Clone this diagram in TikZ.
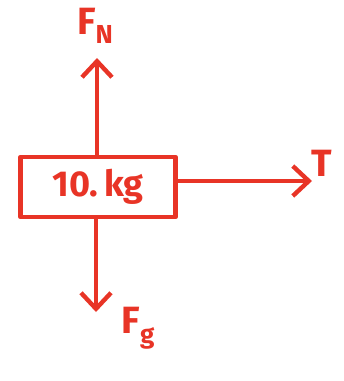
\documentclass[tikz,border=0pt]{standalone}
\usepackage{fontspec}
\setmainfont{Fira Sans}
\usetikzlibrary{arrows.meta}
\definecolor{pen}{RGB}{232,52,38}
\newcommand{\subsc}[1]{\raisebox{-0.25em}{\fontsize{26}{28}\selectfont #1}}
\tikzset{
  ink/.style={draw=pen, line width=4.4pt, line cap=round, line join=round},
  vec/.style={ink, -{Straight Barb[length=16pt,width=30pt,line width=4.4pt]}},
  lbl/.style={text=pen, font=\fontsize{38}{42}\selectfont\bfseries, inner sep=0pt},
}
\begin{document}
\begin{tikzpicture}[x=1pt,y=-1pt]
\useasboundingbox (0,0) rectangle (344,381);
\node[ink, minimum width=155pt, minimum height=60pt, inner sep=0pt,
      text=pen, font=\fontsize{36}{40}\selectfont\bfseries] (box) at (98,187) {10.\,kg};
\coordinate (up) at (97,58);
\coordinate (down) at (96,312);
\coordinate (right) at (312,181);
\draw[vec] (box.north -| up) -- (up);
\draw[vec] (box.south -| down) -- (down);
\draw[vec] (box.east |- right) -- (right);
\node[lbl] (fn) at (95,26) {F\subsc{N}};
\node[lbl] (t) at (322,163) {T};
\node[lbl] (fg) at (138,328) {F\subsc{g}};
\end{tikzpicture}
\end{document}
